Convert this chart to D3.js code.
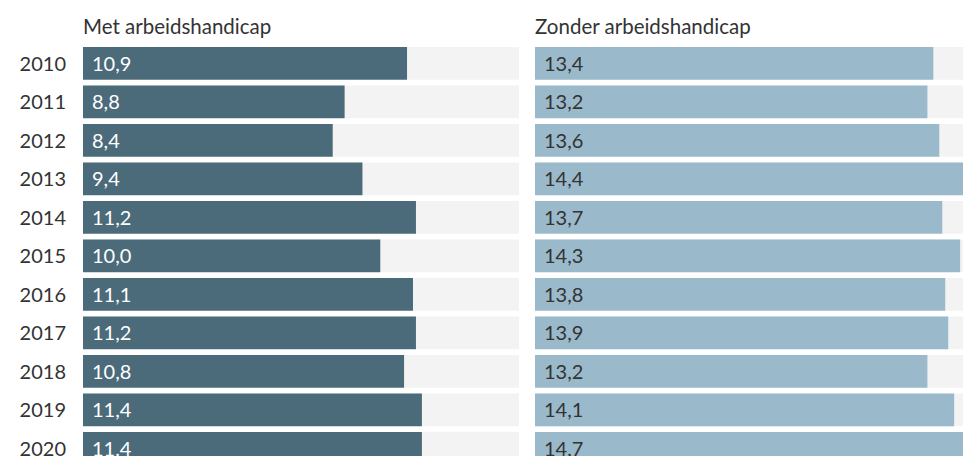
<!DOCTYPE html>
<html>
<head>
<meta charset="utf-8">
<script src="https://cdn.jsdelivr.net/npm/d3@7"></script>
<style>
  body { margin: 0; background: #fff; }
  svg { display: block; font-family: Lato, "Open Sans", sans-serif; }
</style>
</head>
<body>
<svg id="chart" width="963" height="456"></svg>
<script>
// data
var years = ["2010", "2011", "2012", "2013", "2014", "2015", "2016", "2017", "2018", "2019", "2020"];
var metHandicap = [10.9, 8.8, 8.4, 9.4, 11.2, 10.0, 11.1, 11.2, 10.8, 11.4, 11.4];
var zonderHandicap = [13.4, 13.2, 13.6, 14.4, 13.7, 14.3, 13.8, 13.9, 13.2, 14.1, 14.7];
var panelTitles = ["Met arbeidshandicap", "Zonder arbeidshandicap"];

var svg = d3.select("svg#chart");

// rows: step 38.5px, bar 85% of the step
var step = 38.5, pad = 0.15;
var y = d3.scaleBand()
    .domain(years)
    .range([47, 47 + step * (years.length - pad)])
    .paddingInner(pad)
    .paddingOuter(0);

// both panels share the same value scale
var panelWidth = 437;
var maxVal = d3.max(metHandicap.concat(zonderHandicap));
var x = d3.scaleLinear().domain([0, maxVal]).range([0, panelWidth]);

var fmt = function (v) { return v.toFixed(1).replace(".", ","); };

// year labels
svg.append("g")
    .selectAll("text")
    .data(years)
    .enter()
    .append("text")
    .attr("x", 66)
    .attr("y", function (d) { return y(d) + y.bandwidth() / 2; })
    .attr("dy", "0.36em")
    .attr("text-anchor", "end")
    .attr("font-size", "20px")
    .attr("fill", "#333")
    .text(function (d) { return d; });

var panels = [
    {x0: 83, values: metHandicap, fill: "#4b6a7a", textFill: "#fff"},
    {x0: 535, values: zonderHandicap, fill: "#9ab9cb", textFill: "#333"}
];

panels.forEach(function (p, i) {
    var g = svg.append("g").attr("transform", "translate(" + p.x0 + ",0)");

    g.append("text")
        .attr("x", 0)
        .attr("y", 34)
        .attr("font-size", "20.5px")
        .attr("fill", "#333")
        .text(panelTitles[i]);

    // grey background track
    g.selectAll("rect.bg")
        .data(years)
        .enter()
        .append("rect")
        .attr("class", "bg")
        .attr("x", 0)
        .attr("y", function (d) { return y(d); })
        .attr("width", x.range()[1] - (i === 0 ? 1 : 0))
        .attr("height", y.bandwidth())
        .attr("fill", "#f3f3f3");

    // bars
    g.selectAll("rect.bar")
        .data(p.values)
        .enter()
        .append("rect")
        .attr("class", "bar")
        .attr("x", x(0))
        .attr("y", function (d, j) { return y(years[j]); })
        .attr("width", function (d) { return x(d); })
        .attr("height", y.bandwidth())
        .attr("fill", p.fill);

    // value labels
    g.selectAll("text.val")
        .data(p.values)
        .enter()
        .append("text")
        .attr("class", "val")
        .attr("x", 9)
        .attr("y", function (d, j) { return y(years[j]) + y.bandwidth() / 2; })
        .attr("dy", "0.36em")
        .attr("font-size", "20px")
        .attr("fill", p.textFill)
        .text(function (d) { return fmt(d); });
});
</script>
</body>
</html>
